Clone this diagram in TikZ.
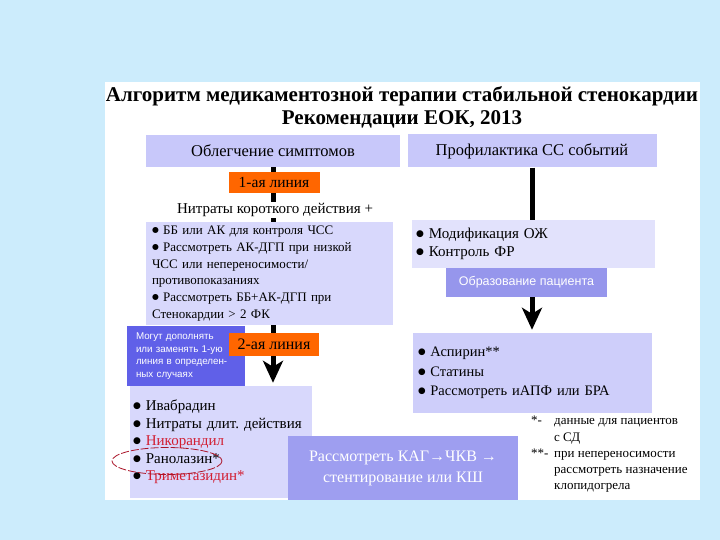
\documentclass[tikz,border=0pt]{standalone}
\usepackage{fontspec}
\setmainfont{Liberation Serif}
\setsansfont{Liberation Sans}
\newfontfamily\dejavu{DejaVu Sans}
\usetikzlibrary{arrows.meta,positioning,backgrounds}

\definecolor{skyback}{RGB}{204,236,252}
\definecolor{headfill}{RGB}{200,200,250}
\definecolor{listfill}{RGB}{216,216,252}
\definecolor{palefill}{RGB}{226,226,252}
\definecolor{drugfill}{RGB}{206,206,250}
\definecolor{edufill}{RGB}{150,150,236}
\definecolor{invfill}{RGB}{158,158,240}
\definecolor{notefill}{RGB}{96,96,232}
\definecolor{lineorange}{RGB}{255,102,0}
\definecolor{drugred}{RGB}{210,30,50}
\definecolor{ringred}{RGB}{170,20,40}

\newcommand{\itm}{\raisebox{0.3ex}{\dejavu\scalebox{0.6}{●}}\ }

\begin{document}
\begin{tikzpicture}[
  x=1pt, y=-1pt,
  box/.style={rectangle, draw=none, inner sep=0pt, align=center},
  headbox/.style={box, fill=headfill, font=\fontsize{16.5}{19}\selectfont},
  listbox/.style={box, align=left},
  tag/.style={box, fill=lineorange, font=\fontsize{15.5}{18}\selectfont},
  arr/.style={line width=5pt, -{Stealth[length=22pt, width=20pt, inset=6pt]}, shorten >=3pt},
  ring/.style={draw=ringred, line width=0.8pt, dash pattern=on 8pt off 2pt}
]
  \useasboundingbox (0,0) rectangle (720,540);

  \node[font=\bfseries\fontsize{21}{23}\selectfont, align=center] (title) at (402,107)
    {Алгоритм медикаментозной терапии стабильной стенокардии\\ Рекомендации ЕОК, 2013};

  % left column
  \node[headbox, minimum width=254pt, minimum height=32pt] (relief) at (273,151) {Облегчение симптомов};
  \node[tag, minimum width=91pt, minimum height=21pt] (first) at (274,182.5) {1-ая линия};
  \node[fill=white, inner sep=1pt, font=\fontsize{15}{17}\selectfont] (nitro) at (275,210) {Нитраты короткого действия +};
  \node[listbox, fill=listfill, inner xsep=6pt, text width=235pt, minimum height=103pt,
        font=\fontsize{13}{16.8}\selectfont] (firstlist) at (269.5,273.5)
    {\itm ББ или АК для контроля ЧСС\\
     \itm Рассмотреть АК-ДГП при низкой\\
     ЧСС или непереносимости/\\
     противопоказаниях\\
     \itm Рассмотреть ББ+АК-ДГП при\\
     Стенокардии > 2 ФК};
  \node[listbox, fill=notefill, text=white, inner xsep=9pt, text width=100pt, minimum height=60pt,
        font=\sffamily\fontsize{9.8}{12.5}\selectfont] (note) at (186,356)
    {Могут дополнять\\ или заменять 1-ую\\ линия в определен-\\ ных случаях};
  \node[tag, minimum width=90pt, minimum height=23pt, font=\fontsize{16}{18}\selectfont] (second) at (274,344.5) {2-ая линия};
  \node[listbox, fill=listfill, inner xsep=3pt, text width=176pt, minimum height=112pt,
        font=\fontsize{15}{17.5}\selectfont] (secondlist) at (221,442)
    {\itm Ивабрадин\\
     \itm Нитраты длит.\ действия\\
     \itm \textcolor{drugred}{Никорандил}\\
     \itm Ранолазин*\\
     \itm \textcolor{drugred}{Триметазидин*}};

  % right column
  \node[headbox, minimum width=249pt, minimum height=33pt] (prevent) at (532,151) {Профилактика СС событий};
  \node[listbox, fill=palefill, inner xsep=4pt, text width=235pt, minimum height=48pt,
        font=\fontsize{15}{18}\selectfont] (lifestyle) at (533.5,244)
    {\itm Модификация ОЖ\\ \itm Контроль ФР};
  \node[box, fill=edufill, text=white, minimum width=161pt, minimum height=29pt,
        font=\sffamily\fontsize{12.5}{15}\selectfont] (educate) at (526.5,282.5) {Образование пациента};
  \node[listbox, fill=drugfill, inner xsep=5pt, text width=229pt, minimum height=80pt,
        font=\fontsize{14.5}{19.5}\selectfont] (drugs) at (532.5,373)
    {\itm Аспирин**\\ \itm Статины\\ \itm Рассмотреть иАПФ или БРА};

  \node[box, fill=invfill, text=white, minimum width=230pt, minimum height=64pt,
        font=\fontsize{16}{21}\selectfont] (invasive) at (403,468)
    {Рассмотреть КАГ→ЧКВ →\\ стентирование или КШ};

  \node[anchor=north west, inner sep=0pt, align=left, font=\fontsize{13}{16.3}\selectfont] (footnote) at (531,416)
    {\makebox[23pt][l]{*-}данные для пациентов\\
     \makebox[23pt][l]{}с СД\\
     \makebox[23pt][l]{**-}при непереносимости\\
     \makebox[23pt][l]{}рассмотреть назначение\\
     \makebox[23pt][l]{}клопидогрела};

  \draw[ring] (167,461) ellipse [x radius=55, y radius=13.5];

  \begin{scope}[on background layer]
    \fill[skyback] (0,0) rectangle (720,540);
    \fill[white] (105,82) rectangle (700,500);
    \draw[arr] (relief.south) -- (relief.south |- secondlist.north);
    \draw[arr] (prevent.south) -- (prevent.south |- drugs.north);
  \end{scope}
\end{tikzpicture}
\end{document}
